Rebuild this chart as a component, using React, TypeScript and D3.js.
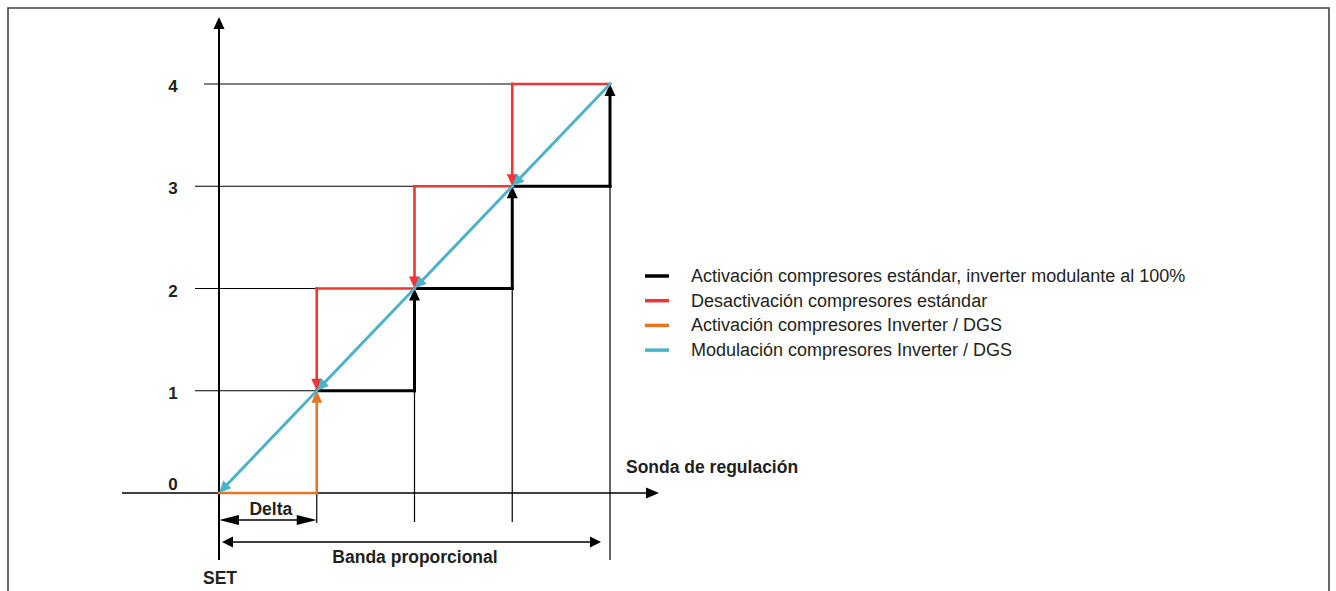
import React from "react";
import * as d3 from "d3";

const levels = [0, 1, 2, 3, 4];
const activacionStd: [number, number][] = [[1, 1], [2, 1], [2, 2], [3, 2], [3, 3], [4, 3], [4, 4]];
const desactivacionStd: [number, number][] = [[4, 4], [3, 4], [3, 3], [2, 3], [2, 2], [1, 2], [1, 1]];
const activacionInv: [number, number][] = [[0, 0], [1, 0], [1, 1]];
const modulacionInv: [number, number][] = [[4, 4], [3, 3], [2, 2], [1, 1], [0, 0]];
const legendLabels = [
  "Activación compresores estándar, inverter modulante al 100%",
  "Desactivación compresores estándar",
  "Activación compresores Inverter / DGS",
  "Modulación compresores Inverter / DGS",
];
const legendColors = ["#000000", "#ef3535", "#ea7424", "#4bb2c9"];

const W = 1336;
const H = 591;
const x = d3.scaleLinear().domain([0, 4]).range([219, 610]);
const y = d3.scaleLinear().domain([0, 4]).range([493, 84]);
const TXT = "#231f20";
const FONT = "Liberation Sans, Arial, sans-serif";

function arrowHead(x1: number, y1: number, x2: number, y2: number, len: number, half: number, color: string, key: string) {
  const a = Math.atan2(y2 - y1, x2 - x1);
  const bx = x2 - len * Math.cos(a);
  const by = y2 - len * Math.sin(a);
  const px = -Math.sin(a) * half;
  const py = Math.cos(a) * half;
  const pts = `${x2},${y2} ${bx + px},${by + py} ${bx - px},${by - py}`;
  return <polygon key={key} points={pts} fill={color} />;
}

function Series({ data, color, width, arrowAll }: { data: [number, number][]; color: string; width: number; arrowAll?: boolean }) {
  const items: React.ReactNode[] = [];
  for (let i = 0; i < data.length - 1; i++) {
    const [a0, b0] = data[i];
    const [a1, b1] = data[i + 1];
    const x1 = x(a0), y1 = y(b0), x2 = x(a1), y2 = y(b1);
    const vertical = a0 === a1;
    const withArrow = arrowAll || vertical;
    let ex = x2, ey = y2;
    if (withArrow) {
      const ang = Math.atan2(y2 - y1, x2 - x1);
      ex = x2 - 6 * Math.cos(ang);
      ey = y2 - 6 * Math.sin(ang);
    }
    items.push(
      <line key={"l" + i} x1={x1} y1={y1} x2={ex} y2={ey} stroke={color} strokeWidth={width} strokeLinecap="square" />
    );
    if (withArrow) items.push(arrowHead(x1, y1, x2, y2, 12, 5.5, color, "a" + i));
  }
  return <g>{items}</g>;
}

export default function App() {
  const thin = "#000";
  return (
    <svg width={W} height={H} style={{ position: "absolute", left: 0, top: 0, background: "#fff" }} fontFamily={FONT}>
      {/* frame */}
      <path d={`M8,${H + 5} L8,8 L1329,8 L1329,${H + 5}`} fill="none" stroke="#444" strokeWidth={1.6} />

      {/* horizontal reference lines */}
      {levels.slice(1).map((l) => (
        <line key={"h" + l} x1={l === 4 ? 204 : 195} x2={x(l)} y1={y(l)} y2={y(l)} stroke={thin} strokeWidth={1.2} />
      ))}
      {/* vertical reference lines */}
      <line x1={x(1)} x2={x(1)} y1={y(0)} y2={523} stroke={thin} strokeWidth={1.2} />
      <line x1={x(2)} x2={x(2)} y1={y(1)} y2={522} stroke={thin} strokeWidth={1.2} />
      <line x1={x(3)} x2={x(3)} y1={y(2)} y2={522} stroke={thin} strokeWidth={1.2} />
      <line x1={x(4)} x2={x(4)} y1={y(3)} y2={560} stroke={thin} strokeWidth={1.2} />

      {/* y axis */}
      <line x1={x(0)} x2={x(0)} y1={28} y2={560} stroke="#000" strokeWidth={2} />
      {arrowHead(x(0), 40, x(0), 17, 12, 5.5, "#000", "ya")}
      {/* x axis */}
      <line x1={122} x2={648} y1={y(0)} y2={y(0)} stroke="#000" strokeWidth={1.4} />
      {arrowHead(600, y(0), 659, y(0), 13, 5.5, "#000", "xa")}

      {/* tick labels */}
      {levels.map((l) => (
        <text key={"t" + l} x={173} y={l === 0 ? y(l) - 3 : y(l) + 8} textAnchor="middle" fontWeight="bold" fontSize={17} fill={TXT}>
          {l}
        </text>
      ))}

      {/* series */}
      <Series data={activacionStd} color={legendColors[0]} width={3} />
      <Series data={desactivacionStd} color={legendColors[1]} width={2.6} />
      <Series data={activacionInv} color={legendColors[2]} width={2.6} />
      <Series data={modulacionInv} color={legendColors[3]} width={3} arrowAll />

      {/* Delta */}
      <line x1={x(0) + 8} x2={x(1) - 8} y1={520} y2={520} stroke="#000" strokeWidth={1.5} />
      {arrowHead(x(1), 520, x(0), 520, 20, 5, "#000", "d1")}
      {arrowHead(x(0), 520, x(1), 520, 20, 5, "#000", "d2")}
      <text x={(x(0) + x(1)) / 2 + 3} y={515} textAnchor="middle" fontWeight="bold" fontSize={17.5} fill={TXT}>Delta</text>

      {/* Banda proporcional */}
      <line x1={x(0) + 10} x2={601 - 8} y1={542} y2={542} stroke="#000" strokeWidth={1.5} />
      {arrowHead(601, 542, 222, 542, 11, 5.5, "#000", "b1")}
      {arrowHead(222, 542, 601, 542, 11, 5.5, "#000", "b2")}
      <text x={415} y={563} textAnchor="middle" fontWeight="bold" fontSize={17.5} fill={TXT}>Banda proporcional</text>

      <text x={220} y={584} textAnchor="middle" fontWeight="bold" fontSize={17.5} fill={TXT}>SET</text>
      <text x={626} y={473} fontWeight="bold" fontSize={17.5} fill={TXT}>Sonda de regulación</text>

      {/* legend */}
      {legendLabels.map((lab, i) => (
        <g key={"lg" + i} transform={`translate(0, ${276 + i * 24.7})`}>
          <line x1={645} x2={669} y1={0} y2={0} stroke={legendColors[i]} strokeWidth={3.5} />
          <text x={691} y={6} fontSize={18} fill={TXT}>{lab}</text>
        </g>
      ))}
    </svg>
  );
}
